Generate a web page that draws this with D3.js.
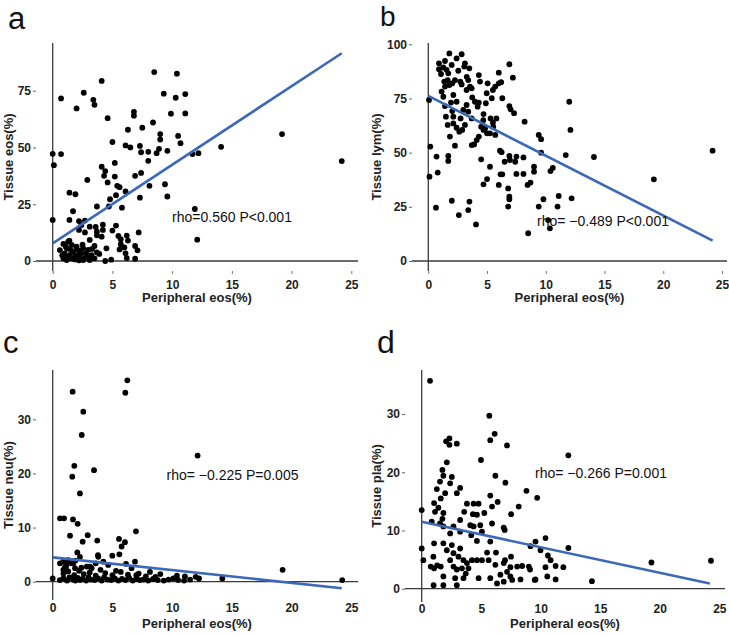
<!DOCTYPE html>
<html>
<head>
<meta charset="utf-8">
<script src="https://cdn.jsdelivr.net/npm/d3@7"></script>
<style>
  html, body { margin: 0; padding: 0; background: #fff; }
  svg { display: block; font-family: "Liberation Sans", Arial, Helvetica, sans-serif; }
</style>
</head>
<body>
<svg id="chart" width="729" height="635"></svg>
<script>
// ---------------- DATA ----------------
const panelLetters = ["a", "b", "c", "d"];
const xAxisTitle = "Peripheral eos(%)";
const yAxisTitles = ["Tissue eos(%)", "Tissue lym(%)", "Tissue neu(%)", "Tissue pla(%)"];
const statLabels = ["rho=0.560 P<0.001", "rho= \u22120.489 P<0.001", "rho= \u22120.225 P=0.005", "rho= \u22120.266 P=0.001"];
const xTicks = [0, 5, 10, 15, 20, 25];
const yTicksEos = [0, 25, 50, 75];
const yTicksLym = [0, 25, 50, 75, 100];
const yTicksNeu = [0, 10, 20, 30];
const yTicksPla = [0, 10, 20, 30];

// fitted lines: [x, y] at both ends
const fitEos = [[0, 7.8], [24.2, 91.5]];
const fitLym = [[0, 76.2], [24.2, 9.4]];
const fitNeu = [[0, 4.5], [24.2, -1.2]];
const fitPla = [[0, 11.5], [24.2, 0.9]];

// points: [peripheral eos, tissue %]
const eosPoints = [
[8.5,83.2],[10.4,82.5],[4.1,79.3],[2.6,74.1],[0.7,71.6],[3.4,71.0],[3.5,68.8],[2.0,67.2],[9.3,73.7],[10.3,71.9],
[11.1,73.5],[6.8,65.7],[6.8,64.0],[9.9,64.9],[11.1,65.0],[4.6,62.9],[6.3,57.8],[7.5,58.7],[8.4,61.0],[9.0,55.9],
[9.0,53.5],[10.5,55.1],[10.7,51.9],[5.0,52.4],[6.1,50.9],[6.5,50.0],[7.3,50.7],[7.4,47.9],[8.0,48.1],[8.7,47.5],
[8.9,49.4],[9.6,48.5],[11.7,47.1],[12.2,47.5],[14.1,50.3],[19.2,55.9],[24.2,44.0],[0,47.2],[0.7,47.1],[0.1,42.2],
[8.0,44.1],[4.1,41.5],[5.2,43.2],[4.4,39.6],[4.3,37.5],[5.2,37.2],[2.9,35.7],[4.6,34.6],[5.4,33.1],[5.6,32.5],
[8.1,33.1],[9.4,33.8],[6.9,37.5],[7.4,38.8],[6.1,30.6],[5.3,29.0],[1.4,30.1],[1.9,29.4],[9.6,28.4],[7.3,27.9],
[4.8,27.2],[3.7,24.0],[4.7,24.0],[5.8,23.5],[11.9,22.9],[1.7,21.9],[0,18.1],[1.4,18.1],[2.2,17.6],[2.7,17.8],
[12.1,9.4],[3.6,15.0],[3.1,15.1],[4.2,16.0],[5.3,15.6],[3.7,11.3],[4.2,13.7],[5.0,13.4],[5.5,11.0],[5.7,9.6],
[6.2,11.2],[6.3,9.0],[7.2,12.6],[2.2,13.7],[2.7,12.6],[4.5,5.6],[3.5,6.6],[6.9,6.6],[7.1,4.7],[6.0,6.0],
[5.6,5.1],[5.7,7.4],[6.1,3.4],[6.9,1.0],[6.2,1.3],[4.9,0.6],[4.4,0.0],[3.7,3.8],[3.9,3.1],[3.1,9.3],
[1.4,9.0],[0.6,4.8],[0.9,7.5],[1.3,8.5],[1.6,7.1],[2.0,6.3],[2.55,5.6],[2.97,4.9],[1.0,3.4],[1.44,2.6],
[1.7,4.1],[2.1,2.6],[2.4,3.4],[2.8,1.9],[3.25,2.6],[1.17,0.4],[1.86,0.7],[2.55,0.4],[3.1,0.4],[0.9,1.2],
[1.6,1.2],[2.3,1.2],[2.8,3.4],[1.2,5.5],[2.3,4.6],[1.9,2.0],[2.6,0.9],[3.0,1.5],[1.3,1.8],[2.0,5.0],
[1.1,6.3],[3.3,5.3],[2.5,7.2],[1.5,4.9],[0.8,2.5],[2.2,0.3],[3.5,1.2],[2.4,15.9],[3.7,12.9],[4.1,10.7]
];

const lymPoints = [
[24.2,50.9],[19.2,37.7],[14.1,48.0],[12.0,73.5],[12.1,60.5],[11.7,48.9],[12.2,28.9],[11.1,30.0],[11.0,25.1],[10.35,15.1],
[10.2,18.9],[9.8,28.5],[9.4,58.2],[9.6,56.2],[9.6,50.0],[9.4,25.1],[9.0,43.5],[9.0,41.2],[8.5,12.8],[8.45,35.1],
[8.7,36.2],[8.1,47.8],[8.1,40.2],[8.2,64.3],[7.5,48.2],[7.4,45.8],[7.5,40.2],[7.2,84.6],[6.9,90.8],[6.9,71.5],
[7.0,70.0],[7.3,68.2],[6.9,48.5],[6.9,29.7],[6.9,28.5],[6.8,33.5],[6.8,25.1],[6.5,45.8],[6.3,40.0],[6.15,40.0],
[6.24,50.2],[6.1,50.9],[6.0,35.1],[6.3,75.1],[6.0,86.9],[6.2,82.5],[6.0,82.0],[5.7,80.5],[5.5,78.9],[5.4,75.1],
[5.8,65.8],[5.5,63.8],[5.3,65.8],[5.7,58.2],[5.25,58.9],[5.0,58.9],[4.7,60.5],[4.7,67.8],[4.9,72.8],[5.05,82.0],
[4.3,85.8],[4.4,82.8],[4.3,73.1],[4.2,71.2],[4.5,62.0],[4.3,57.4],[3.9,53.8],[3.7,53.5],[4.5,46.9],[5.25,43.5],
[4.7,35.4],[5.0,37.8],[4.06,16.9],[3.5,27.4],[3.4,23.5],[2.6,21.2],[2.0,27.8],[0.65,24.6],[0.8,40.8],[0.7,48.2],
[0.1,38.9],[0.17,52.8],[0.06,74.3],[1.7,46.2],[1.7,48.5],[1.84,57.4],[2.27,53.2],[1.65,62.8],[2.13,63.5],[1.5,66.6],
[2.64,59.7],[2.89,60.5],[3.12,62.8],[2.41,61.5],[2.04,69.2],[1.93,73.1],[2.41,73.5],[2.98,69.7],[2.75,65.8],[3.26,72.0],
[3.69,65.8],[1.42,71.5],[1.28,75.8],[2.13,76.6],[2.84,81.5],[3.26,78.9],[3.55,80.5],[3.69,79.7],[3.49,88.9],[3.12,91.2],
[2.84,95.4],[2.41,93.5],[1.79,95.8],[1.42,92.3],[0.91,91.2],[0.91,88.5],[1.08,86.3],[1.56,88.2],[1.99,90.5],[2.55,87.8],
[3.06,89.7],[1.65,83.5],[2.04,82.0],[2.27,83.5],[2.72,82.8],[1.36,82.8],[1.42,80.5],[1.79,81.2],[1.13,78.2],[3.4,83.5],
[3.74,75.5],[1.28,89.3],[1.7,86.6],[3.27,85.0],[4.97,77.4],[3.97,73.5],[3.4,68.9],[2.13,66.6],[4.12,55.8],[4.83,61.2],
[5.53,61.9],[4.68,65.0],[6.95,46.6],[10.4,41.5],[10.6,43.0]
];

const neuPoints = [
[6.25,37.2],[6.08,34.9],[1.67,35.1],[2.56,31.4],[2.43,27.1],[12.13,23.3],[1.81,21.4],[3.46,20.6],[1.64,19.4],[2.28,16.3],
[0.61,11.7],[0.95,11.7],[1.7,11.5],[2.09,10.7],[1.45,8.5],[2.93,8.6],[2.51,7.4],[3.73,7.6],[6.97,9.3],[5.55,7.9],
[6.05,7.3],[5.77,6.5],[5.58,5.05],[4.99,4.8],[3.79,4.9],[2.06,5.4],[2.28,4.6],[6.14,3.3],[6.89,3.7],[3.6,3.4],
[4.24,3.7],[0.89,3.7],[1.17,3.1],[1.59,3.4],[1.87,2.5],[2.85,2.8],[3.26,2.5],[19.25,2.2],[24.24,0.3],[14.2,0.6],
[12.25,0.6],[0,0.6],[8.14,1.8],[9.01,1.4],[11.07,1.0],[11.97,0.9],[0.61,3.4],[1.03,2.7],[1.72,3.4],[3.12,2.8],
[3.82,4.6],[4.65,3.1],[0.89,2.2],[1.3,4.0],[1.9,3.9],
[0.6,0.3],[0.9,0.6],[1.2,0.2],[1.4,0.8],[1.7,0.4],[1.9,0.2],[2.1,0.7],[2.3,0.3],[2.5,0.5],[2.8,0.2],
[3.0,0.8],[3.2,0.4],[3.5,0.3],[3.8,0.6],[4.1,0.2],[4.3,0.8],[4.6,0.4],[4.9,0.3],[5.2,0.6],[5.5,0.2],
[5.8,0.5],[6.1,0.3],[6.4,0.7],[6.7,0.2],[7.0,0.5],[7.3,0.3],[7.6,0.4],[8.0,0.2],[8.4,0.5],[8.8,0.3],
[9.3,0.2],[9.7,0.4],[10.1,0.6],[10.5,0.3],[11.0,0.2],[11.5,0.4],
[0.9,1.5],[1.3,1.9],[1.8,1.2],[2.2,2.0],[2.6,1.4],[3.1,1.7],[3.6,1.1],[4.4,1.6],[5.0,1.2],[5.7,1.8],
[6.3,1.3],[7.2,1.5],[7.8,1.0],[8.6,0.9],[10.4,1.1],[1.1,2.4],[2.4,2.6],[4.0,2.2],[5.3,2.0],[6.6,2.5],[7.0,1.2]
];

const plaPoints = [
[0.7,35.7],[5.68,29.7],[6.13,26.6],[5.76,25.5],[2.05,25.3],[2.33,25.8],[2.33,24.7],[2.95,24.9],[7.17,24.6],[12.32,22.9],
[4.98,22.1],[2.11,21.7],[1.74,20.4],[1.82,19.4],[2.53,19.2],[2.39,18.1],[1.54,18.4],[3.23,17.3],[1.27,17.1],[1.97,16.4],
[2.95,16.4],[1.6,15.5],[6.19,19.4],[7.03,18.2],[8.8,16.8],[9.7,15.6],[5.76,16.0],[6.38,14.9],[1.04,14.7],[1.4,13.9],
[1.12,13.2],[1.82,13.0],[1.74,12.0],[0,13.5],[3.8,14.6],[4.36,14.6],[4.78,14.6],[3.57,13.2],[4.3,12.8],[4.64,12.7],
[5.26,13.0],[5.91,14.1],[7.51,12.8],[8.15,14.1],[3.23,11.8],[2.67,10.7],[4.08,10.9],[4.36,10.7],[4.92,10.9],[5.06,9.8],
[5.91,11.2],[6.89,10.5],[6.97,10.1],[0.84,11.5],[1.54,11.2],[1.82,10.7],[2.39,9.5],[3.23,9.8],[4.64,8.2],[4.16,9.2],
[5.76,8.1],[9.14,7.3],[9.56,8.1],[10.4,8.7],[9.98,6.6],[12.32,7.0],[0,6.9],[0.14,4.9],[1.04,7.8],[0.98,5.5],
[1.82,7.8],[2.11,6.6],[2.53,7.5],[2.67,6.1],[3.23,6.9],[3.09,5.5],[3.51,4.9],[4.22,4.9],[4.64,4.9],[5.06,4.9],
[5.62,4.9],[5.49,6.2],[6.24,6.2],[2.39,4.9],[0.76,3.8],[1.04,3.5],[2.67,3.8],[2.95,3.3],[3.38,3.5],[3.8,4.4],
[3.93,3.5],[6.19,4.1],[6.89,4.4],[7.17,2.9],[7.45,3.7],[8.02,3.8],[8.44,3.9],[9.0,3.8],[7.45,2.1],[6.61,2.4],
[5.76,1.8],[4.78,1.8],[3.51,1.8],[2.81,1.8],[1.82,2.1],[1.82,0.6],[2.95,0.6],[6.33,0.9],[6.89,1.2],[8.3,1.6],
[9.56,1.6],[10.55,2.1],[11.25,1.6],[10.4,3.7],[10.83,4.9],[11.25,3.9],[11.9,3.7],[14.3,1.3],[19.3,4.5],[24.3,4.8],
[10.6,5.7],[9.1,3.3],[7.6,1.5],[3.7,2.6],[1.0,0.6],[1.6,3.8],[1.3,4.0],[7.5,5.5],[7.0,4.9],[9.5,1.5]
];

// ---------------- LAYOUT ----------------
const layouts = [
  { left: 36,  right: 358, top: 43,  bottom: 271, xPx: [52.7, 351.3], yPx: [261, 90.7],  yRef: 75,
    xTick: 3, xPad: 6, letter: [8, 29, 31], yLab: [12.5, 157], xLab: 302, stat: [232, 222] },
  { left: 412, right: 727, top: 43,  bottom: 271, xPx: [428.3, 722.0], yPx: [261, 44.3], yRef: 100,
    xTick: 3, xPad: 6, letter: [380, 26, 28], yLab: [380.5, 157], xLab: 302, stat: [603, 226] },
  { left: 36,  right: 358, top: 370, bottom: 600, xPx: [52.7, 351.3], yPx: [581.7, 419.3], yRef: 30,
    xTick: 0, xPad: 3, letter: [3, 353, 31], yLab: [12.5, 485], xLab: 628, stat: [232.5, 480] },
  { left: 405, right: 725, top: 370, bottom: 602, xPx: [421.7, 719.3], yPx: [588.7, 414], yRef: 30,
    xTick: 0, xPad: 2, letter: [377, 353, 32], yLab: [381, 486], xLab: 628, stat: [601, 478] }
];
const pointSets = [eosPoints, lymPoints, neuPoints, plaPoints];
const fits = [fitEos, fitLym, fitNeu, fitPla];
const yTickSets = [yTicksEos, yTicksLym, yTicksNeu, yTicksPla];

const svg = d3.select("#chart");
const axisColor = "#3a3a3a";
const lineBlue = "#3b69b7";

layouts.forEach((L, i) => {
  const x = d3.scaleLinear().domain([0, 25]).range(L.xPx);
  const y = d3.scaleLinear().domain([0, L.yRef]).range(L.yPx);
  const g = svg.append("g");

  // panel letter
  g.append("text").attr("x", L.letter[0]).attr("y", L.letter[1])
    .attr("font-size", L.letter[2]).attr("fill", "#111").text(panelLetters[i]);

  // zero lines (hline / vline)
  g.append("line").attr("x1", L.left).attr("x2", L.right)
    .attr("y1", y(0)).attr("y2", y(0))
    .attr("stroke", axisColor).attr("stroke-width", 1.3);
  g.append("line").attr("x1", x(0)).attr("x2", x(0))
    .attr("y1", L.top).attr("y2", L.bottom)
    .attr("stroke", axisColor).attr("stroke-width", 1.3);

  // points
  g.append("g").selectAll("circle").data(pointSets[i]).join("circle")
    .attr("cx", d => x(d[0])).attr("cy", d => y(d[1]))
    .attr("r", 2.9).attr("fill", "#000");

  // fitted line
  g.append("line")
    .attr("x1", x(fits[i][0][0])).attr("y1", y(fits[i][0][1]))
    .attr("x2", x(fits[i][1][0])).attr("y2", y(fits[i][1][1]))
    .attr("stroke", lineBlue).attr("stroke-width", 2.6).attr("stroke-linecap", "butt");

  // y axis
  const ya = g.append("g").attr("transform", `translate(${L.left},0)`)
    .call(d3.axisLeft(y).tickValues(yTickSets[i]).tickSize(3).tickPadding(2).tickFormat(d3.format("d")));
  ya.select(".domain").remove();
  ya.selectAll(".tick line").attr("stroke", "#666").attr("stroke-width", 1);
  ya.selectAll(".tick text").attr("font-size", 12).attr("font-weight", "bold").attr("fill", "#222")
    .attr("font-family", "Liberation Sans, Arial, sans-serif");

  // x axis
  const xa = g.append("g").attr("transform", `translate(0,${L.bottom})`)
    .call(d3.axisBottom(x).tickValues(xTicks).tickSize(L.xTick).tickPadding(L.xPad).tickFormat(d3.format("d")));
  xa.select(".domain").remove();
  xa.selectAll(".tick line").attr("stroke", "#777").attr("stroke-width", 1);
  xa.selectAll(".tick text").attr("font-size", 12).attr("font-weight", "bold").attr("fill", "#222")
    .attr("font-family", "Liberation Sans, Arial, sans-serif");

  // axis titles
  g.append("text").attr("x", (L.left + L.right) / 2).attr("y", L.xLab)
    .attr("text-anchor", "middle").attr("font-size", 13).attr("font-weight", "bold")
    .attr("fill", "#222").text(xAxisTitle);
  g.append("text").attr("transform", `translate(${L.yLab[0]},${L.yLab[1]}) rotate(-90)`)
    .attr("text-anchor", "middle").attr("font-size", 13).attr("font-weight", "bold")
    .attr("fill", "#222").text(yAxisTitles[i]);

  // statistic
  g.append("text").attr("x", L.stat[0]).attr("y", L.stat[1])
    .attr("text-anchor", "middle").attr("font-size", 14).attr("fill", "#111")
    .text(statLabels[i]);
});
</script>
</body>
</html>
